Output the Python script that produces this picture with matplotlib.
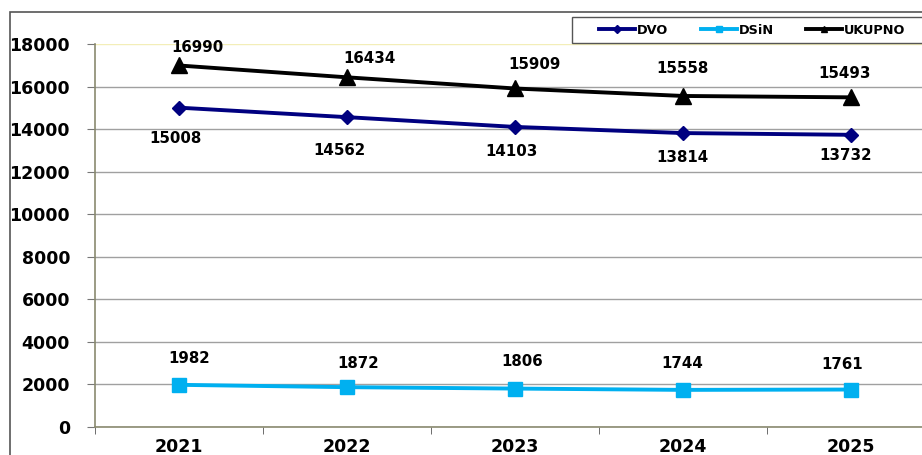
import matplotlib
matplotlib.use("Agg")
import matplotlib.pyplot as plt
from matplotlib.patches import Rectangle
from matplotlib.lines import Line2D

years = ["2021", "2022", "2023", "2024", "2025"]
dvo = [15008, 14562, 14103, 13814, 13732]
dsin = [1982, 1872, 1806, 1744, 1761]
ukupno = [16990, 16434, 15909, 15558, 15493]
yticks = [0, 2000, 4000, 6000, 8000, 10000, 12000, 14000, 16000, 18000]

# label placement offsets (pixels, label centre relative to marker)
uk_off = [(18, 18), (22, 19), (19, 24), (-1, 27), (-6, 24)]
dvo_off = [(-4, -31), (-8, -33), (-4, -25), (-1, -24), (-5, -21)]
ds_off = [(10, 26), (11, 24), (7, 27), (-1, 26), (-9, 25)]

plt.rcParams['font.family'] = ['DejaVu Sans']
plt.rcParams['font.weight'] = 'bold'

fig = plt.figure(figsize=(9.22, 4.55), dpi=100)
ax = fig.add_axes([95/922, 1-427/455, 840/922, (427-44)/455])

x = list(range(len(years)))
l1, = ax.plot(x, dvo, color='#000080', lw=2.8, marker='D', ms=7, label='DVO', zorder=3)
l2, = ax.plot(x, dsin, color='#00B0F0', lw=2.8, marker='s', ms=10, label='DSiN', zorder=3)
l3, = ax.plot(x, ukupno, color='black', lw=2.8, marker='^', ms=12, label='UKUPNO', zorder=4)

lab_fs = 10.8
for vals, offs in ((ukupno, uk_off), (dvo, dvo_off), (dsin, ds_off)):
    for xi, v, (dx, dy) in zip(x, vals, offs):
        ax.annotate(str(v), (xi, v), xytext=(dx, dy), textcoords='offset pixels',
                    ha='center', va='center', fontsize=lab_fs, fontweight='bold',
                    annotation_clip=False)

ax.set_xlim(-0.5, 4.5)
ax.set_ylim(0, 18000)
ax.set_yticks(yticks)
ax.set_yticklabels([str(t) for t in yticks], fontsize=12.5, fontweight='bold')
ax.set_xticks(x)
ax.set_xticklabels(years, fontsize=12.5, fontweight='bold')
ax.set_xticks([i + 0.5 for i in range(-1, 5)], minor=True)
ax.tick_params(axis='x', which='major', length=0, pad=8)
ax.tick_params(axis='x', which='minor', length=5, color='#555555', direction='out')
ax.tick_params(axis='y', length=6, color='#777777', pad=12)

ax.grid(axis='y', color='#a0a0a0', lw=1)
ax.get_ygridlines()[-1].set_color('#f3eeb8')
ax.set_axisbelow(True)
for s in ['top', 'right']:
    ax.spines[s].set_visible(False)
ax.spines['left'].set_color('#8a8a70')
ax.spines['bottom'].set_color('#8a8a70')
ax.spines['left'].set_linewidth(1.2)
ax.spines['bottom'].set_linewidth(1.2)

# outer chart frame
fig.patches.append(Rectangle((10/922, -0.1), 1.2, (455-12)/455 + 0.1, transform=fig.transFigure,
                             fill=False, ec='#555555', lw=1.2))
# legend box
fig.patches.append(Rectangle((572/922, 1-43/455), 0.5, 26/455, transform=fig.transFigure,
                             fill=True, fc='white', ec='#555555', lw=1.0, zorder=5))

h1 = Line2D([], [], color='#000080', lw=2.8, marker='D', ms=4)
h2 = Line2D([], [], color='#00B0F0', lw=2.8, marker='s', ms=5)
h3 = Line2D([], [], color='black', lw=2.8, marker='^', ms=5)
leg = fig.legend(handles=[h1, h2, h3], labels=['DVO', 'DSiN', 'UKUPNO'],
                 loc='center left', bbox_to_anchor=(599/922, 1-30/455),
                 ncol=3, frameon=False, fontsize=9.3, handlelength=2.8,
                 columnspacing=2.5, handletextpad=0.15, borderpad=0, borderaxespad=0)
leg.set_zorder(6)

fig.savefig('out.png', dpi=100)
